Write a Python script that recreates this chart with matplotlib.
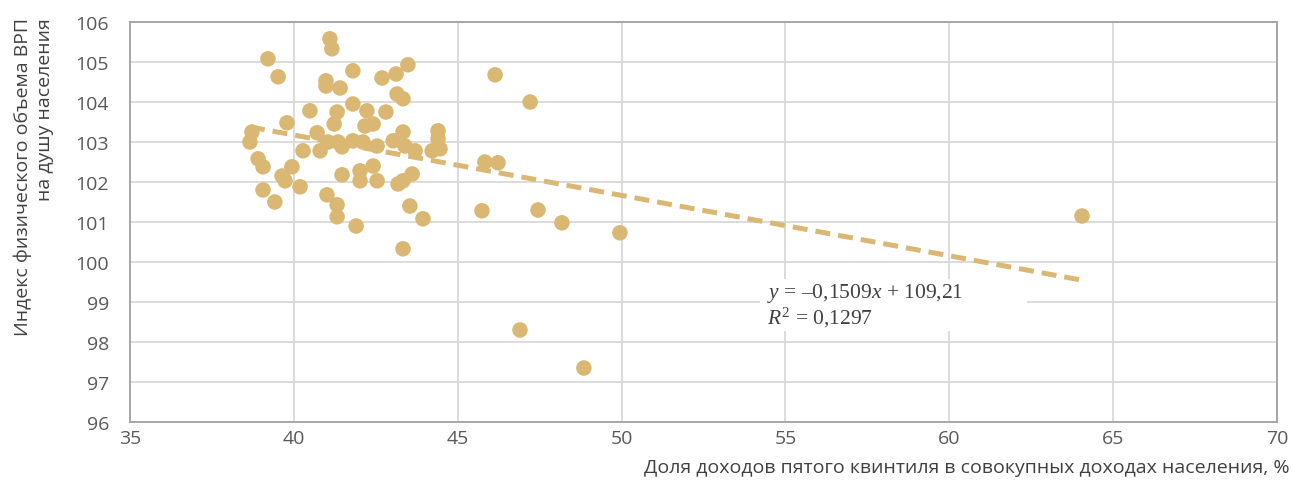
import matplotlib
matplotlib.use("Agg")
import matplotlib.pyplot as plt
from matplotlib.patches import Rectangle
import numpy as np

# Share of the fifth quintile in total household income, %
income_share = [
    38.66, 38.72, 38.91, 39.06, 39.06, 39.21, 39.52, 39.42, 39.64, 39.73,
    39.79, 39.94, 40.19, 40.28, 40.49, 40.71, 40.80, 40.98, 40.98, 41.01,
    41.10, 41.16, 41.04, 41.23, 41.32, 41.32, 41.32, 41.41, 41.35, 41.47,
    41.47, 41.80, 41.80, 41.80, 41.90, 42.11, 42.02, 42.02, 42.17, 42.23,
    42.42, 42.42, 42.54, 42.54, 42.69, 42.81, 43.03, 43.12, 43.15, 43.33,
    43.18, 43.33, 43.33, 43.39, 43.33, 43.48, 43.61, 43.54, 43.70, 43.94,
    44.22, 44.40, 44.40, 44.46, 45.74, 45.83, 46.23, 46.14, 47.21, 47.45,
    48.18, 46.90, 48.85, 49.95, 64.05,
]

# Physical volume index of GRP per capita
grp_index = [
    103.00, 103.25, 102.58, 102.38, 101.80, 105.08, 104.63, 101.50, 102.15, 102.03,
    103.48, 102.38, 101.88, 102.78, 103.78, 103.23, 102.78, 104.53, 104.40, 101.68,
    105.58, 105.33, 103.00, 103.45, 103.75, 101.43, 101.13, 104.35, 103.00, 102.88,
    102.18, 104.78, 103.95, 103.03, 100.90, 103.00, 102.28, 102.03, 103.40, 103.78,
    103.45, 102.40, 102.90, 102.03, 104.60, 103.75, 103.03, 104.70, 104.20, 104.08,
    101.95, 102.03, 103.25, 102.90, 100.33, 104.93, 102.20, 101.40, 102.78, 101.08,
    102.78, 103.28, 103.08, 102.83, 101.28, 102.50, 102.48, 104.68, 104.00, 101.30,
    100.98, 98.30, 97.35, 100.73, 101.15,
]

# Linear trend reported on the chart
slope = -0.1509
intercept = 109.21
r_squared = 0.1297

x_ticks = [35, 40, 45, 50, 55, 60, 65, 70]
y_ticks = [96, 97, 98, 99, 100, 101, 102, 103, 104, 105, 106]

x_label = "Доля доходов пятого квинтиля в совокупных доходах населения, %"
y_label = "Индекс физического объема ВРП\nна душу населения"

plt.rcParams["font.family"] = ["Open Sans", "DejaVu Sans"]
plt.rcParams["mathtext.fontset"] = "custom"
plt.rcParams["mathtext.rm"] = "Liberation Serif"
plt.rcParams["mathtext.it"] = "Liberation Serif:italic"

gold = "#DAB873"
tick_color = "#595959"
label_color = "#404040"

fig = plt.figure(figsize=(12.92, 4.81), dpi=100)
ax = fig.add_axes([130 / 1292, 58 / 481, 1147 / 1292, 400 / 481])

ax.set_xlim(35, 70)
ax.set_ylim(96, 106)
ax.set_xticks(x_ticks)
ax.set_yticks(y_ticks)
ax.tick_params(length=0, labelsize=14, colors=tick_color)
ax.tick_params(axis="y", pad=15)
ax.tick_params(axis="x", pad=5)

ax.set_axisbelow(True)
ax.grid(True, color="#d9d9d9", linewidth=1.3)
for sp in ax.spines.values():
    sp.set_color("#a6a6a6")
    sp.set_linewidth(1.4)

# white panel behind the equation
ax.add_patch(Rectangle((0.549, 0.2275), 0.233, 0.13, transform=ax.transAxes,
                       facecolor="white", edgecolor="none", zorder=1))

ax.scatter(income_share, grp_index, s=125, color=gold, edgecolors="none", zorder=3)

xs = np.array([min(income_share), max(income_share)])
ax.plot(xs, slope * xs + intercept, color=gold, linewidth=3.6,
        linestyle=(0, (3.0, 1.6)), zorder=2, solid_capstyle="butt")

eq_text = (r"$y$ = –" + f"{-slope:.4f}".replace(".", ",") + r"$x$ + "
           + f"{intercept:.2f}".replace(".", ",") + "\n"
           + r"$R^2$ = " + f"{r_squared:.4f}".replace(".", ","))
ax.text(0.555, 0.352, eq_text, transform=ax.transAxes, ha="left", va="top",
        fontsize=15.5, family="Liberation Serif", color=label_color,
        linespacing=1.05, zorder=4)

fig.text(1290 / 1292, 1 - 468 / 481, x_label, ha="right", va="center",
         fontsize=14, color=label_color)
fig.text(34 / 1292, 1 - 18 / 481, y_label, rotation=90, ha="center", va="top",
         multialignment="right", fontsize=14, color=label_color, linespacing=1.25)

fig.savefig("out.png", dpi=100)
